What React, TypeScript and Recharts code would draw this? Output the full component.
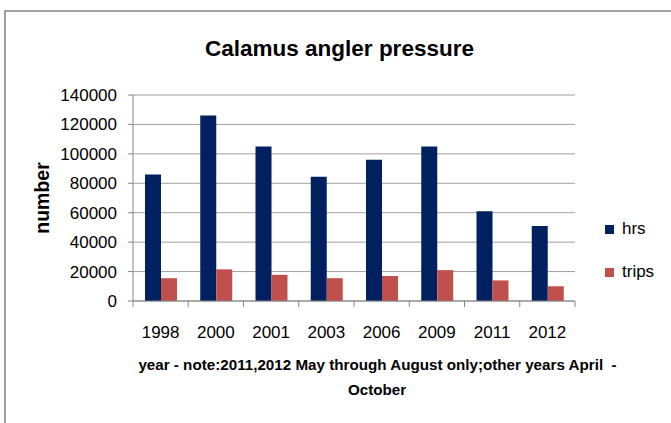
import React from 'react';
import { BarChart, Bar, XAxis, YAxis, CartesianGrid, Legend, Label } from 'recharts';

const years = ['1998', '2000', '2001', '2003', '2006', '2009', '2011', '2012'];
const hrs = [86000, 126000, 105000, 84500, 96000, 105000, 61000, 51000];
const trips = [15500, 21500, 17800, 15500, 17000, 21000, 14000, 10000];
const yTicks = [0, 20000, 40000, 60000, 80000, 100000, 120000, 140000];

const seriesNames = ['hrs', 'trips'];
const seriesColors = ['#002060', '#C0504D'];

const data = years.map((y, i) => ({ year: y, hrs: hrs[i], trips: trips[i] }));

const W = 671;
const H = 423;
const LEFT = 133;
const RIGHT_M = 96;
const TOP = 95;
const BOTTOM_M = 122;
const X_AXIS_H = 30;
const PLOT_W = W - LEFT - RIGHT_M;
const BAND = PLOT_W / years.length;

const FONT = '"Liberation Sans", Arial, sans-serif';
const AXIS_COLOR = '#868686';

const XTick = (props: any) => {
  const { x, y, payload, index } = props;
  const isLast = index === years.length - 1;
  return (
    <g>
      <line x1={x - BAND / 2} x2={x - BAND / 2} y1={y} y2={y + 6} stroke={AXIS_COLOR} />
      {isLast && <line x1={x + BAND / 2} x2={x + BAND / 2} y1={y} y2={y + 6} stroke={AXIS_COLOR} />}
      <text x={x} y={y + 37} textAnchor="middle" fontSize={17} fontFamily={FONT} fill="#000">
        {payload.value}
      </text>
    </g>
  );
};

const LegendContent = () => (
  <div style={{ fontFamily: FONT, fontSize: 17, color: '#000' }}>
    {seriesNames.map((n, i) => (
      <div key={n} style={{ display: 'flex', alignItems: 'center', height: 30, marginBottom: 13 }}>
        <span style={{ width: 9, height: 9, background: seriesColors[i], display: 'inline-block', marginRight: 8 }} />
        <span>{n}</span>
      </div>
    ))}
  </div>
);

export default function App() {
  return (
    <div style={{ position: 'absolute', left: 0, top: 0, width: W, height: H, background: '#fff' }}>
      <div
        style={{
          position: 'absolute',
          left: 4,
          top: 10,
          width: W - 4,
          height: H - 10,
          borderLeft: '2px solid #a0a0a0',
          borderTop: '2px solid #a0a0a0',
          boxSizing: 'border-box',
        }}
      />
      <div
        style={{
          position: 'absolute',
          left: 0,
          top: 35,
          width: 679,
          textAlign: 'center',
          fontFamily: FONT,
          fontWeight: 'bold',
          fontSize: 22.5,
          lineHeight: '28px',
          color: '#000',
        }}
      >
        Calamus angler pressure
      </div>
      <div style={{ position: 'absolute', left: 0, top: 0 }}>
        <BarChart
          width={W}
          height={H}
          data={data}
          margin={{ top: TOP, right: RIGHT_M, bottom: BOTTOM_M - X_AXIS_H, left: 0 }}
          barGap={0}
        >
          <CartesianGrid vertical={false} stroke="#a0a0a0" />
          <XAxis
            dataKey="year"
            height={X_AXIS_H}
            axisLine={{ stroke: AXIS_COLOR }}
            tickLine={false}
            tickSize={0}
            tickMargin={0}
            interval={0}
            tick={<XTick />}
          >
            <Label
              content={() => (
                <g fontFamily={FONT} fontWeight="bold" fontSize={15.2} fill="#000">
                  <text x={377.5} y={370} textAnchor="middle" style={{ whiteSpace: 'pre' }}>
                    year - note:2011,2012 May through August only;other years April  -
                  </text>
                  <text x={377} y={395} textAnchor="middle">
                    October
                  </text>
                </g>
              )}
            />
          </XAxis>
          <YAxis
            width={LEFT}
            domain={[0, 140000]}
            ticks={yTicks}
            interval={0}
            axisLine={{ stroke: AXIS_COLOR }}
            tickLine={{ stroke: AXIS_COLOR }}
            tickSize={5}
            tickMargin={11}
            tick={{ fontSize: 17, fill: '#000', fontFamily: FONT }}
          >
            <Label
              content={() => (
                <text
                  x={42}
                  y={198}
                  transform="rotate(-90 42 198)"
                  textAnchor="middle"
                  dominantBaseline="central"
                  fontFamily={FONT}
                  fontWeight="bold"
                  fontSize={19.5}
                  fill="#000"
                >
                  number
                </text>
              )}
            />
          </YAxis>
          <Legend
            layout="horizontal"
            verticalAlign="middle"
            align="center"
            content={<LegendContent />}
            wrapperStyle={{ position: 'absolute', left: 605, top: 214, width: 66 }}
          />
          <Bar dataKey="hrs" fill={seriesColors[0]} barSize={16} isAnimationActive={false} />
          <Bar dataKey="trips" fill={seriesColors[1]} barSize={16} isAnimationActive={false} />
        </BarChart>
      </div>
    </div>
  );
}
